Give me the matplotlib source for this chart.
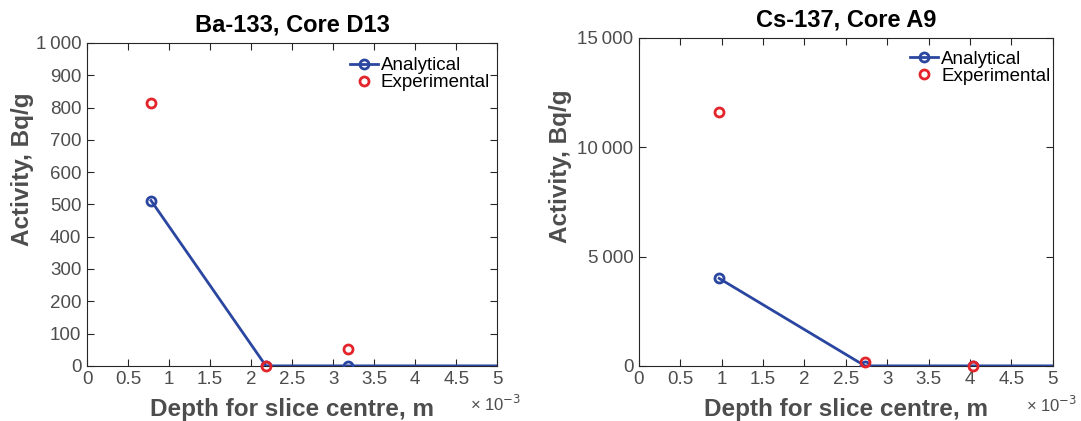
"""
Activity profiles along the core depth: analytical model vs. measured slices.
"""

import matplotlib

matplotlib.use("Agg")
import matplotlib.pyplot as plt
from matplotlib.ticker import FuncFormatter, MultipleLocator

plt.rcParams["font.family"] = ["Liberation Sans", "DejaVu Sans"]

# Ba-133, core D13 (depth in m, activity in Bq/g)
BA_DEPTH_MODEL = [0.78e-3, 2.18e-3, 3.18e-3, 6.0e-3]
BA_ACT_MODEL = [512, 0, 0, 0]
BA_DEPTH_EXP = [0.78e-3, 2.18e-3, 3.18e-3]
BA_ACT_EXP = [815, 0, 52]

# Cs-137, core A9
CS_DEPTH_MODEL = [0.97e-3, 2.73e-3, 4.03e-3, 6.0e-3]
CS_ACT_MODEL = [4000, 0, 0, 0]
CS_DEPTH_EXP = [0.97e-3, 2.73e-3, 4.03e-3]
CS_ACT_EXP = [11600, 180, 0]

BLUE = "#2a46a0"
RED = "#e3242b"
TICK_GRAY = "#4d4d4d"
AXIS_GRAY = "#262626"


def _thousands(v, pos):
    return f"{int(round(v)):,}".replace(",", "\u2009")


def _milli(v, pos):
    return f"{v * 1e3:g}"


def draw(ax, title, xm, ym, xe, ye, ymax, ystep, ylab_x, leg_anchor):
    ax.plot(xm, ym, color=BLUE, lw=2, marker="o", ms=6.5, mew=2,
            mfc="none", markevery=[0, 1, 2], label="Analytical", zorder=3)
    ax.plot(xe, ye, ls="none", marker="o", ms=6.5, mew=2, mfc="none",
            color=RED, label="Experimental", zorder=4, clip_on=False)

    ax.set_xlim(0, 5e-3)
    ax.set_ylim(0, ymax)
    ax.xaxis.set_major_locator(MultipleLocator(0.5e-3))
    ax.yaxis.set_major_locator(MultipleLocator(ystep))
    ax.xaxis.set_major_formatter(FuncFormatter(_milli))
    ax.yaxis.set_major_formatter(FuncFormatter(_thousands))

    ax.tick_params(direction="in", top=True, right=True, length=5,
                   width=0.8, color=AXIS_GRAY, labelcolor=TICK_GRAY,
                   labelsize=13.5, pad=4)
    for s in ax.spines.values():
        s.set_color(AXIS_GRAY)
        s.set_linewidth(0.8)

    ax.set_title(title, fontsize=17, fontweight="bold", pad=8)
    ax.set_xlabel("Depth for slice centre, m", fontsize=17.5,
                  fontweight="bold", color=TICK_GRAY, labelpad=7)
    ax.set_ylabel("Activity, Bq/g", fontsize=17.5, fontweight="bold",
                  color=TICK_GRAY)
    ax.yaxis.set_label_coords(ylab_x, 0.61)
    ax.text(1.058, -0.118, "× 10$^{-3}$", transform=ax.transAxes,
            fontsize=12, color=TICK_GRAY, ha="right", va="center")

    ax.legend(loc="upper right", bbox_to_anchor=leg_anchor, frameon=False,
              fontsize=13.5, handlelength=1.5, handletextpad=0.15,
              labelspacing=0.0, borderaxespad=0.3, borderpad=0.2)


fig = plt.figure(figsize=(10.81, 4.21), dpi=100)
ax1 = fig.add_axes([0.0805, 0.131, 0.3795, 0.767])
ax2 = fig.add_axes([0.591, 0.131, 0.383, 0.779])

draw(ax1, "Ba-133, Core D13", BA_DEPTH_MODEL, BA_ACT_MODEL,
     BA_DEPTH_EXP, BA_ACT_EXP, 1000, 100, -0.13, (1.005, 0.985))
draw(ax2, "Cs-137, Core A9", CS_DEPTH_MODEL, CS_ACT_MODEL,
     CS_DEPTH_EXP, CS_ACT_EXP, 15000, 5000, -0.162, (1.017, 0.99))

fig.savefig("out.png", dpi=100)
